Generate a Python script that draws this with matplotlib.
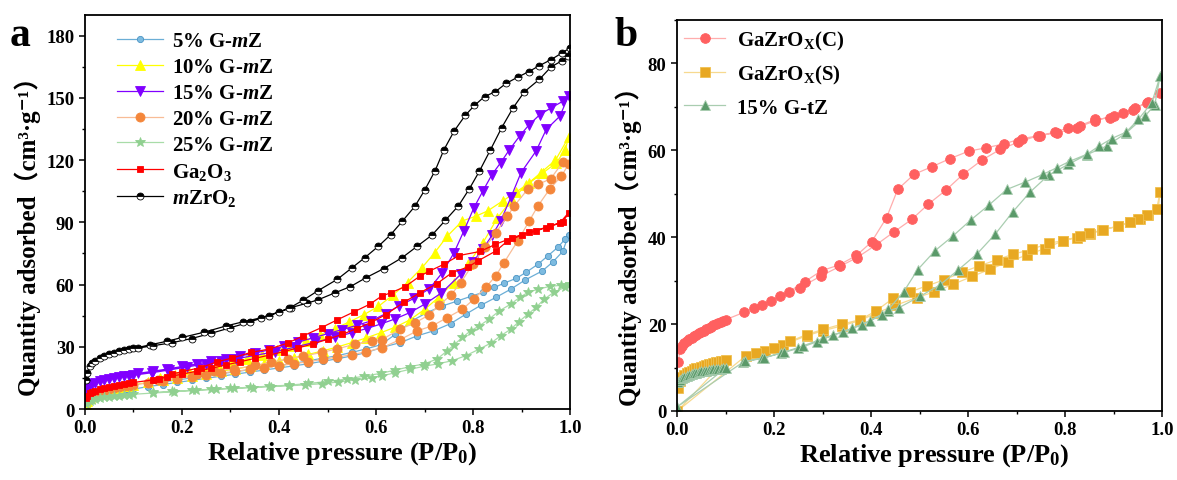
import matplotlib
matplotlib.use("Agg")
import matplotlib.pyplot as plt
from matplotlib.ticker import MultipleLocator

# fonts: bold Times-like serif, CJK fallback for the full-width brackets
plt.rcParams['font.family'] = ['Liberation Serif', 'DejaVu Serif', 'Noto Sans CJK SC']
plt.rcParams['font.weight'] = 'bold'
plt.rcParams['mathtext.fontset'] = 'custom'
plt.rcParams['mathtext.rm'] = 'Liberation Serif:bold'
plt.rcParams['mathtext.it'] = 'Liberation Serif:italic:bold'
plt.rcParams['mathtext.bf'] = 'Liberation Serif:bold'

# ---------------- panel a data ----------------
low_p = [0.002, 0.005, 0.01, 0.015, 0.02, 0.03, 0.04, 0.05, 0.06, 0.07, 0.08, 0.09, 0.1]

# 5% G-mZ
g5_ads_low = [3.5, 4.3, 5, 5.6, 6, 6.8, 7.4, 7.9, 8.3, 8.7, 9, 9.3, 9.6]
g5_ads_p = [0.13, 0.16, 0.19, 0.22, 0.25, 0.28, 0.31, 0.34, 0.37, 0.4, 0.43, 0.46, 0.49, 0.52, 0.55,
            0.58, 0.612, 0.65, 0.685, 0.719, 0.754, 0.785, 0.816, 0.847, 0.878, 0.908, 0.943, 0.965, 0.985, 0.997]
g5_ads_v = [10.8, 11.8, 12.8, 13.8, 14.8, 15.8, 16.8, 17.8, 18.8, 19.8, 20.8, 21.8, 23, 24.2, 25.6,
            27.2, 29.7, 32, 35.3, 37.7, 41.2, 45.7, 50, 53.8, 57.8, 62.3, 66.6, 71, 76, 84]
g5_des_p = [0.99, 0.975, 0.955, 0.935, 0.91, 0.889, 0.864, 0.844, 0.82, 0.795, 0.768, 0.737, 0.705, 0.674, 0.64, 0.61,
            0.58, 0.55, 0.52, 0.49, 0.46, 0.43, 0.4, 0.37, 0.34, 0.31, 0.28, 0.25, 0.22, 0.19, 0.16, 0.13]
g5_des_v = [82, 78, 74, 70, 66, 63, 60.7, 58.6, 56.2, 54.3, 52.1, 49.7, 46.5, 42.5, 36, 31,
            29, 27.3, 25.7, 24.5, 23.2, 22, 21, 20, 19, 18, 17, 16, 15, 14, 13, 12]

# 10% G-mZ
g10_ads_low = [2.5, 4, 5.5, 6.5, 7.2, 8.2, 8.9, 9.5, 10, 10.5, 10.9, 11.3, 11.7]
g10_ads_p = [0.13, 0.16, 0.19, 0.22, 0.25, 0.28, 0.31, 0.34, 0.37, 0.4, 0.43, 0.46, 0.49, 0.52, 0.55,
             0.58, 0.61, 0.64, 0.67, 0.7, 0.73, 0.76, 0.79, 0.82, 0.85, 0.88, 0.91, 0.94, 0.97, 0.997]
g10_ads_v = [12.8, 13.9, 15, 16, 17.1, 18.2, 19.3, 20.5, 21.8, 23.2, 24.7, 26.3, 28, 29.9, 32,
             34.3, 36.8, 39.5, 43, 48, 54, 61, 70, 80, 92, 101, 108, 114, 120, 131]
g10_des_p = [0.99, 0.972, 0.945, 0.916, 0.888, 0.861, 0.83, 0.806, 0.778, 0.747, 0.721, 0.695, 0.665, 0.635, 0.605,
             0.575, 0.545, 0.515, 0.485, 0.455, 0.425, 0.395, 0.365, 0.335, 0.305, 0.275, 0.245, 0.215, 0.185, 0.155]
g10_des_v = [125, 118.8, 114, 109, 104.5, 100.3, 95.5, 93, 90.7, 83.4, 75.4, 68.2, 61, 55, 49.5,
             45.5, 42, 38.8, 35.8, 33, 30.5, 28.3, 26.2, 24.3, 22.5, 20.8, 19.2, 17.7, 16.2, 14.8]

# 15% G-mZ
g15_ads_low = [9.5, 10.5, 11.5, 12.2, 12.7, 13.5, 14, 14.5, 14.9, 15.3, 15.7, 16, 16.3]
g15_ads_p = [0.138, 0.173, 0.211, 0.249, 0.28, 0.311, 0.349, 0.391, 0.432, 0.474, 0.515, 0.55, 0.581, 0.61, 0.64,
             0.67, 0.7, 0.735, 0.775, 0.8, 0.82, 0.84, 0.857, 0.878, 0.899, 0.93, 0.951, 0.979, 0.997]
g15_ads_v = [17.5, 18.8, 20.3, 21.8, 23, 24.2, 25.8, 27.6, 29.8, 32.2, 34.5, 36.8, 38.8, 41, 43.5,
             46.5, 50.5, 56, 65, 71, 77, 84, 90.7, 102, 114, 124.4, 134.8, 141.2, 151]
g15_des_p = [0.985, 0.961, 0.938, 0.916, 0.896, 0.875, 0.857, 0.839, 0.82, 0.802, 0.781, 0.761, 0.737, 0.71, 0.678,
             0.647, 0.62, 0.59, 0.56, 0.53, 0.5, 0.47, 0.44, 0.41, 0.38, 0.35, 0.32, 0.29, 0.26, 0.23, 0.2, 0.17, 0.14, 0.11]
g15_des_v = [148.4, 145.2, 142, 137.2, 131.6, 125, 118.8, 113, 105, 97.1, 85.8, 75.4, 65.8, 58, 53.3,
             49.7, 46, 42.5, 40.3, 38.3, 36.3, 34.3, 32.3, 30.3, 28.5, 27, 25.6, 24.3, 23, 21.7, 20.5, 19.3, 18.2, 17.2]

# 20% G-mZ
g20_ads_low = [4, 5, 6, 6.7, 7.3, 8.2, 8.9, 9.5, 10, 10.5, 10.9, 11.3, 11.6]
g20_ads_p = [0.13, 0.16, 0.19, 0.22, 0.25, 0.28, 0.31, 0.34, 0.37, 0.4, 0.43, 0.46, 0.49, 0.52, 0.55, 0.58,
             0.612, 0.65, 0.685, 0.716, 0.747, 0.778, 0.802, 0.826, 0.847, 0.864, 0.892, 0.916, 0.934, 0.958, 0.982, 0.997]
g20_ads_v = [12.6, 13.6, 14.6, 15.5, 16.4, 17.3, 18.2, 19.1, 20, 20.9, 21.8, 22.8, 23.9, 25, 26.2, 27.6,
             29.5, 33.5, 37.7, 40.1, 44.1, 48.1, 53, 58.6, 64.2, 70.6, 81, 90.7, 98, 106, 112.3, 118]
g20_des_p = [0.985, 0.96, 0.934, 0.913, 0.885, 0.871, 0.847, 0.825, 0.8, 0.775, 0.754, 0.73, 0.709, 0.68, 0.65,
             0.612, 0.591, 0.557, 0.52, 0.488, 0.45, 0.418, 0.384, 0.35, 0.308, 0.266, 0.23, 0.19, 0.15]
g20_des_v = [119, 111, 108.3, 106, 98, 93, 85, 78, 70, 61, 54.9, 50, 45.3, 41.5, 38.5,
             33.5, 32.9, 31.3, 29, 27.3, 25.5, 24.1, 22.5, 21, 19.3, 18.4, 16.8, 15.3, 13.8]

# 25% G-mZ
g25_ads_low = [2.5, 3.2, 3.8, 4.3, 4.7, 5.2, 5.6, 5.9, 6.2, 6.5, 6.7, 6.9, 7.1]
g25_ads_p = [0.14, 0.183, 0.228, 0.27, 0.308, 0.346, 0.384, 0.42, 0.453, 0.488, 0.522, 0.557, 0.591, 0.612, 0.64, 0.671,
             0.699, 0.728, 0.757, 0.785, 0.813, 0.837, 0.857, 0.878, 0.894, 0.913, 0.93, 0.947, 0.968, 0.989, 0.999]
g25_ads_v = [7.7, 8.3, 9, 9.5, 9.9, 10.3, 10.8, 11.2, 11.6, 12.2, 13, 14, 15, 16, 17.5, 19.2,
             20.6, 21.8, 23.3, 25.7, 28.9, 31.8, 35.3, 38.5, 42, 45.7, 49, 53, 56.5, 58.6, 60.2]
g25_des_p = [0.982, 0.958, 0.934, 0.913, 0.896, 0.878, 0.854, 0.833, 0.813, 0.795, 0.778, 0.76, 0.747, 0.726, 0.7,
             0.67, 0.64, 0.61, 0.575, 0.54, 0.5, 0.46, 0.42, 0.38, 0.34, 0.3, 0.26, 0.22, 0.18, 0.14]
g25_des_v = [59.7, 59.1, 57.8, 56.2, 53.8, 50.6, 47.3, 43.3, 40.1, 37.7, 34.5, 30.8, 28.1, 24.1, 21.8,
             20.4, 18.8, 17.2, 15.8, 14.5, 13.3, 12.3, 11.5, 11, 10.5, 10, 9.5, 9, 8.5, 8]

# Ga2O3
ga_ads_low = [5.5, 6.5, 7.5, 8.2, 8.8, 9.6, 10.2, 10.8, 11.3, 11.7, 12.1, 12.5, 12.8]
ga_ads_p = [0.14, 0.17, 0.2, 0.23, 0.26, 0.29, 0.32, 0.35, 0.38, 0.41, 0.44, 0.47, 0.5, 0.53, 0.56,
            0.59, 0.62, 0.657, 0.69, 0.726, 0.757, 0.79, 0.81, 0.847, 0.871, 0.902, 0.93, 0.958, 0.979, 0.997]
ga_ads_v = [14, 15.4, 16.8, 18.2, 19.6, 21.2, 22.8, 24.4, 26, 27.7, 29.5, 31.4, 33.6, 36, 38.7,
            41.8, 45.5, 51.4, 56, 60.5, 65.8, 68.5, 71.4, 76.2, 81, 84, 85.8, 88.2, 89.8, 94.6]
ga_des_p = [0.985, 0.95, 0.916, 0.88, 0.846, 0.815, 0.771, 0.74, 0.71, 0.69, 0.66, 0.63, 0.612, 0.587, 0.555,
            0.52, 0.488, 0.45, 0.418, 0.38, 0.342, 0.304, 0.273, 0.239, 0.2, 0.18, 0.152]
ga_des_v = [90, 87.5, 85.3, 82.5, 79.4, 76, 74, 69.8, 66.5, 64, 59, 56, 54.5, 50.5, 46.9,
            43, 39.3, 35.3, 31.8, 28.9, 27.3, 24.6, 22.8, 20, 18, 16.9, 14.4]

# mZrO2
mz_ads_low = [14, 17.5, 20.5, 22, 23, 24.5, 25.5, 26.5, 27.2, 27.8, 28.3, 28.8, 29.2]
mz_ads_p = [0.135, 0.17, 0.2, 0.245, 0.29, 0.325, 0.363, 0.4, 0.425, 0.457, 0.48, 0.515, 0.547, 0.58, 0.616,
            0.654, 0.685, 0.716, 0.743, 0.77, 0.792, 0.813, 0.836, 0.859, 0.882, 0.906, 0.937, 0.961, 0.984, 0.996]
mz_ads_v = [31, 32.7, 34.5, 37, 40, 42, 44, 46.8, 48.9, 51, 52.6, 56, 59, 63.4, 67.7,
            73, 78.5, 84, 91, 98, 106, 114.6, 125, 135.6, 145, 153, 159, 165, 168, 170]
mz_des_p = [0.999, 0.984, 0.961, 0.937, 0.915, 0.892, 0.868, 0.846, 0.824, 0.803, 0.784, 0.761, 0.74, 0.722, 0.70,
            0.68, 0.654, 0.63, 0.605, 0.577, 0.55, 0.52, 0.48, 0.45, 0.42, 0.38, 0.34, 0.3, 0.26, 0.22, 0.18, 0.14, 0.11]
mz_des_v = [174, 171.8, 168.5, 165.6, 162.7, 160, 157, 153, 150.7, 146.4, 141.6, 134, 125, 115, 105.4,
            97.7, 90.5, 84, 78.5, 73, 68, 62.5, 57, 52.5, 48.5, 45, 42, 39.2, 36.5, 34, 32, 30.5, 29.4]

# ---------------- panel b data ----------------
low_p_b = [0.003, 0.006, 0.01, 0.015, 0.02, 0.025, 0.03, 0.035, 0.04, 0.045, 0.05, 0.055,
           0.06, 0.065, 0.07, 0.075, 0.08, 0.085, 0.09, 0.095, 0.1]

# GaZrOx(C)
zc_ads_low = [11.3, 14.3, 15, 15.6, 16.1, 16.5, 16.9, 17.3, 17.6, 17.9, 18.2, 18.5,
              18.8, 19.1, 19.4, 19.7, 20, 20.2, 20.5, 20.8, 21]
zc_ads_p = [0.138, 0.175, 0.212, 0.254, 0.297, 0.336, 0.371, 0.41, 0.447, 0.484, 0.518, 0.554, 0.59, 0.628,
            0.666, 0.704, 0.745, 0.783, 0.824, 0.862, 0.9, 0.941, 0.969, 0.995]
zc_ads_v = [22.7, 24.4, 26.4, 28.4, 31.1, 33.3, 35.3, 38.2, 41.2, 44.1, 47.6, 50.8, 54.5, 57.7,
            60.2, 61.9, 63.4, 64, 65.2, 66.8, 68, 69.4, 71, 73.1]
zc_des_p = [0.972, 0.944, 0.919, 0.893, 0.862, 0.831, 0.807, 0.779, 0.748, 0.711, 0.674, 0.638, 0.601, 0.563,
            0.525, 0.489, 0.455, 0.432, 0.401, 0.37, 0.334, 0.298, 0.264, 0.23, 0.194, 0.159]
zc_des_v = [71.1, 69.8, 68.5, 67.5, 67.1, 65.7, 65.2, 64.2, 63.4, 62.7, 61.5, 60.6, 59.8, 58.1,
            56.2, 54.5, 51, 44.5, 38.9, 35.8, 33.6, 32.3, 29.8, 27.4, 25.4, 23.6]

# GaZrOx(S)
zs_ads_low = [5.4, 7, 7.8, 8.3, 8.7, 9, 9.3, 9.6, 9.8, 10, 10.2, 10.4,
              10.6, 10.8, 10.9, 11.1, 11.2, 11.3, 11.5, 11.6, 11.7]
zs_ads_p = [0.001, 0.142, 0.181, 0.218, 0.267, 0.302, 0.34, 0.377, 0.41, 0.45, 0.494, 0.53, 0.57, 0.609,
            0.645, 0.683, 0.721, 0.759, 0.796, 0.824, 0.852, 0.876, 0.91, 0.934, 0.955, 0.972, 0.992]
zs_ads_v = [0, 12.7, 13.9, 15.2, 17.3, 18.5, 19.6, 20.8, 22.5, 24.3, 26.1, 27.4, 29.2, 31,
            32.6, 34.3, 35.9, 37.4, 39.2, 39.9, 40.7, 41.7, 42.5, 43.4, 44.3, 45.1, 46.4]
zs_des_p = [0.996, 0.989, 0.968, 0.951, 0.933, 0.91, 0.878, 0.85, 0.831, 0.795, 0.766, 0.731, 0.693, 0.659,
            0.623, 0.587, 0.551, 0.515, 0.48, 0.445, 0.41, 0.377, 0.34, 0.302, 0.267, 0.233, 0.199, 0.162]
zs_des_v = [50.4, 46.6, 45.1, 44.1, 43.5, 42.6, 41.7, 40.9, 40.2, 39.2, 38.6, 37.2, 36.1, 34.8,
            33.4, 31.9, 30.2, 28.8, 27.4, 25.9, 23, 21, 20, 18.8, 17.6, 16, 14.6, 13.3]

# 15% G-tZ
tz_ads_low = [6.6, 7.2, 7.6, 7.9, 8.1, 8.3, 8.5, 8.7, 8.8, 9, 9.1, 9.2,
              9.3, 9.4, 9.5, 9.55, 9.6, 9.7, 9.75, 9.8, 9.9]
tz_ads_p = [0.001, 0.137, 0.176, 0.214, 0.25, 0.288, 0.322, 0.36, 0.398, 0.436, 0.458, 0.501, 0.542, 0.58,
            0.618, 0.656, 0.692, 0.728, 0.766, 0.807, 0.845, 0.886, 0.926, 0.965, 0.985, 0.996]
tz_ads_v = [1, 11.3, 12.1, 13.3, 14.4, 15.9, 17.5, 19, 20.8, 23.1, 23.8, 26.4, 29, 32.5,
            36.1, 40.7, 45.8, 50.4, 54.3, 56.8, 59, 61, 64, 67.9, 70.5, 77.1]
tz_des_p = [0.979, 0.951, 0.926, 0.896, 0.869, 0.845, 0.81, 0.783, 0.755, 0.718, 0.68, 0.643, 0.606, 0.568,
            0.532, 0.496, 0.467, 0.436, 0.422, 0.381, 0.343, 0.302, 0.26, 0.22, 0.18, 0.14]
tz_des_v = [71, 67.1, 64.2, 62.7, 60.9, 59.1, 57.5, 56, 54.5, 52.7, 51, 47.4, 44, 40.2,
            36.9, 32.5, 27.4, 23.4, 22.1, 19.8, 18.2, 16.7, 15, 13.5, 12.3, 11.4]


def isotherm(ax, lowp, ads_low, ads_p, ads_v, des_p, des_v, label, line, mk, mfc, mec, ms, **kw):
    # adsorption branch then desorption branch, drawn as one polyline like Origin does
    p = list(lowp) + list(ads_p) + list(des_p)
    v = list(ads_low) + list(ads_v) + list(des_v)
    ax.plot(p, v, color=line, lw=0.9, marker=mk, markersize=ms, markerfacecolor=mfc,
            markeredgecolor=mec, markeredgewidth=0.6, label=label, **kw)


def style_axes(ax, ymax, ymaj, ymin, ylab_y):
    ax.set_xlim(0, 1.0)
    ax.set_ylim(0, ymax)
    ax.xaxis.set_major_locator(MultipleLocator(0.2))
    ax.xaxis.set_minor_locator(MultipleLocator(0.1))
    ax.yaxis.set_major_locator(MultipleLocator(ymaj))
    ax.yaxis.set_minor_locator(MultipleLocator(ymin))
    ax.tick_params(which='major', direction='out', length=4.5, width=1.1, labelsize=13.5, pad=3)
    ax.tick_params(which='minor', direction='out', length=2.5, width=1.0)
    for s in ax.spines.values():
        s.set_linewidth(1.3)
    for t in ax.get_xticklabels() + ax.get_yticklabels():
        t.set_fontweight('bold')
    ax.xaxis.set_major_formatter(plt.FuncFormatter(lambda x, pos: "%.1f" % x))
    ax.set_xlabel("Relative pressure (P/P$_0$)", fontsize=19, fontweight='bold', labelpad=2)
    ax.set_ylabel("Quantity adsorbed（cm³·g⁻¹）", fontsize=18, fontweight='bold', labelpad=4)
    ax.xaxis.label.set_x(0.53)
    ax.yaxis.label.set_y(ylab_y)


fig = plt.figure(figsize=(11.77, 4.81), dpi=100)
axa = fig.add_axes([0.0722, 0.1476, 0.4121, 0.8191])
axb = fig.add_axes([0.5752, 0.1435, 0.4121, 0.8128])

# panel a
isotherm(axa, low_p, g5_ads_low, g5_ads_p, g5_ads_v, g5_des_p, g5_des_v, "5% G-$m$Z",
         '#6BAED6', 'o', '#7DBBE0', '#4A94C4', 4.5)
isotherm(axa, low_p, g10_ads_low, g10_ads_p, g10_ads_v, g10_des_p, g10_des_v, "10% G-$m$Z",
         '#FFFF00', '^', '#FFFF00', '#FFFF00', 7)
isotherm(axa, low_p, g15_ads_low, g15_ads_p, g15_ads_v, g15_des_p, g15_des_v, "15% G-$m$Z",
         '#8000FF', 'v', '#8000FF', '#8000FF', 6.5)
isotherm(axa, low_p, g20_ads_low, g20_ads_p, g20_ads_v, g20_des_p, g20_des_v, "20% G-$m$Z",
         '#F8BC96', 'o', '#F4863A', '#F4863A', 6.5)
isotherm(axa, low_p, g25_ads_low, g25_ads_p, g25_ads_v, g25_des_p, g25_des_v, "25% G-$m$Z",
         '#A8DCA8', '*', '#90D090', '#90D090', 7.5)
isotherm(axa, low_p, ga_ads_low, ga_ads_p, ga_ads_v, ga_des_p, ga_des_v, "Ga$_2$O$_3$",
         '#FF0000', 's', '#FF0000', '#FF0000', 5)
isotherm(axa, low_p, mz_ads_low, mz_ads_p, mz_ads_v, mz_des_p, mz_des_v, "$m$ZrO$_2$",
         '#000000', 'o', '#000000', '#000000', 5, fillstyle='top', markerfacecoloralt='white')
style_axes(axa, 190, 30, 15, 0.455)
axa.legend(loc='upper left', bbox_to_anchor=(0.04, 0.99), frameon=False, fontsize=15,
           handlelength=2.2, handletextpad=0.45, labelspacing=0.28, borderaxespad=0.2)

# panel b
isotherm(axb, low_p_b, zc_ads_low, zc_ads_p, zc_ads_v, zc_des_p, zc_des_v, "GaZrO$_\\mathrm{X}$(C)",
         '#FFADAD', 'o', '#FF6060', '#FF6060', 7)
isotherm(axb, low_p_b, zs_ads_low, zs_ads_p, zs_ads_v, zs_des_p, zs_des_v, "GaZrO$_\\mathrm{X}$(S)",
         '#F7D98F', 's', '#E8A822', '#F0C050', 6.5)
isotherm(axb, low_p_b, tz_ads_low, tz_ads_p, tz_ads_v, tz_des_p, tz_des_v, "15% G-tZ",
         '#A9CDB0', '^', '#5B9A6A', '#A9CDB0', 7.5)
style_axes(axb, 90, 20, 10, 0.44)
axb.legend(loc='upper left', bbox_to_anchor=(-0.012, 1.01), frameon=False, fontsize=15,
           handlelength=2.0, handletextpad=0.55, labelspacing=0.55, borderaxespad=0.2)

# panel letters
fig.text(0.008, 0.905, "a", fontsize=30, fontweight='bold')
fig.text(0.522, 0.905, "b", fontsize=30, fontweight='bold')

fig.savefig("out.png", dpi=100)
